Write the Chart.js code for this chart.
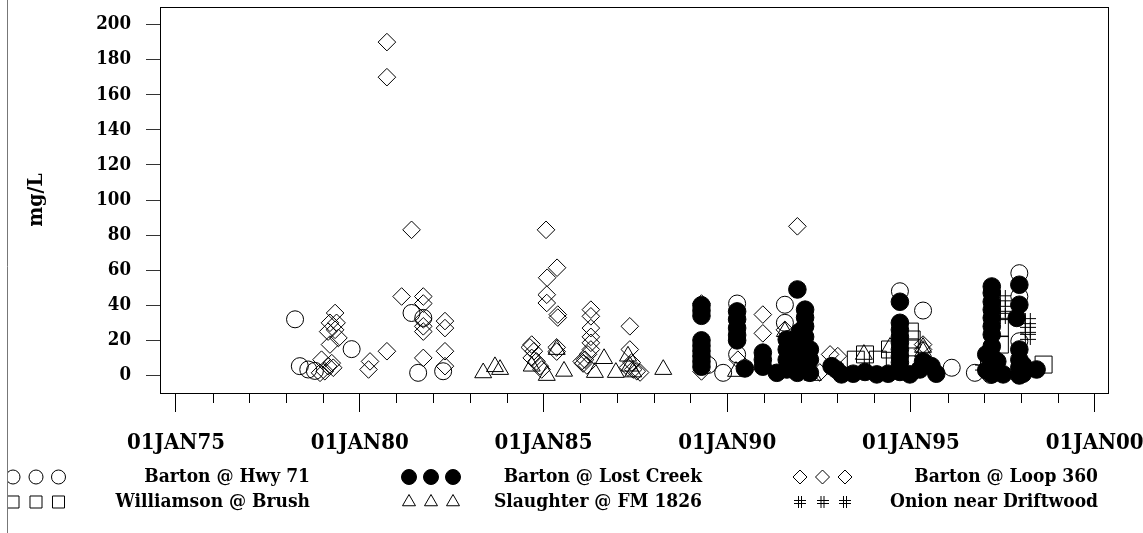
<!DOCTYPE html>
<html>
<head>
<meta charset="utf-8">
<script src="https://cdn.jsdelivr.net/npm/chart.js@4/dist/chart.umd.min.js"></script>
<style>
  html, body { margin: 0; padding: 0; background: #fff; overflow: hidden; }
  #wrap { width: 1143px; height: 533px; position: relative; }
</style>
</head>
<body>
<div id="wrap"><canvas id="c" width="1143" height="533"></canvas></div>
<script>
// Sample dates are decimal years; concentrations are mg/L.

const hwy71Dates  = [1978.24, 1978.37, 1978.60, 1978.78, 1979.78, 1981.41, 1981.73, 1981.59, 1982.27,
                     1989.48, 1989.89, 1990.27, 1990.27, 1991.57, 1991.57, 1994.70, 1995.33, 1996.11,
                     1996.74, 1997.17, 1997.95, 1997.95, 1997.95];
const hwy71Values = [32, 5.3, 3.4, 2.6, 15, 35.6, 32.8, 1.5, 2.4,
                     6, 1.5, 41, 12, 40.3, 30, 48, 37, 4.4,
                     1.5, 0.3, 58.3, 45, 19.5];

const lostCreekDates  = [1989.30, 1989.30, 1989.30, 1989.30, 1989.30, 1989.30, 1989.30, 1989.30, 1989.30,
                         1990.27, 1990.27, 1990.27, 1990.27, 1990.27, 1990.48,
                         1990.97, 1990.97, 1990.97, 1991.35, 1991.91,
                         1991.62, 1991.62, 1991.62, 1991.62, 1991.91, 1991.91, 1991.91,
                         1992.12, 1992.12, 1992.12, 1992.12, 1992.12, 1992.12,
                         1992.25, 1992.25, 1992.25, 1991.98, 1991.98,
                         1992.84, 1992.97, 1993.11, 1993.43, 1993.75, 1994.07, 1994.38,
                         1994.70, 1994.70, 1994.70, 1994.70, 1994.70, 1994.70, 1994.70, 1994.70, 1994.70, 1994.70,
                         1994.97, 1995.24, 1995.33, 1995.56, 1995.69,
                         1997.20, 1997.20, 1997.20, 1997.20, 1997.20, 1997.20, 1997.20, 1997.20, 1997.20, 1997.20, 1997.20,
                         1997.05, 1997.05, 1997.35, 1997.35, 1997.51,
                         1997.95, 1997.95, 1997.95, 1997.95, 1997.95, 1997.95, 1997.88, 1998.05, 1998.05, 1998.42];
const lostCreekValues = [40, 37, 34, 20, 17, 14, 11, 8, 5,
                         36.5, 32, 27, 23, 20, 4,
                         13, 9, 5, 1.5, 49,
                         20.5, 14.8, 9, 3.4, 11, 5.3, 1.5,
                         37.5, 33, 28, 22, 16.6, 9,
                         14.8, 9, 1.5, 25, 18,
                         5.3, 3.4, 0.6, 1, 2, 0.6, 1,
                         2, 42, 30, 26, 22, 18.6, 14.8, 11, 7.4, 3.4,
                         0.6, 3.4, 8, 5.3, 1,
                         50.7, 47, 42, 37.5, 32.8, 28, 23.3, 16.6, 11, 5.3, 0.6,
                         12, 3, 8, 2, 0.6,
                         51.7, 40.3, 14.8, 9, 4.5, 0, 32.8, 6, 1, 3.4];

const loop360Dates  = [1978.96, 1979.33, 1979.19, 1979.37, 1979.33, 1979.14, 1979.42, 1979.19,
                       1979.14, 1979.05, 1979.24, 1978.92, 1979.28,
                       1980.28, 1980.24, 1980.74, 1980.74, 1980.74, 1981.41, 1981.14,
                       1981.73, 1981.73, 1981.73, 1981.73, 1981.73, 1981.73,
                       1982.32, 1982.32, 1982.32, 1982.32,
                       1984.68, 1984.68, 1984.74, 1984.81, 1984.90, 1984.95, 1984.63,
                       1985.07, 1985.10, 1985.37, 1985.09, 1985.09, 1985.39, 1985.39, 1985.36, 1985.36,
                       1986.29, 1986.29, 1986.29, 1986.29, 1986.29, 1986.29,
                       1986.21, 1986.13, 1986.04, 1986.08, 1986.18,
                       1987.35, 1987.35, 1987.40, 1987.44, 1987.54, 1987.30, 1987.63,
                       1989.30, 1989.30, 1990.29, 1990.97, 1990.97, 1991.57, 1991.91,
                       1992.52, 1992.80, 1993.01, 1995.33, 1995.33];
const loop360Values = [9, 35.6, 30, 30, 26, 25, 21.4, 17.6,
                       5.3, 2.4, 7, 1.5, 4.4,
                       8, 3.4, 190, 170, 13.8, 83, 45,
                       45, 41, 32, 28, 25, 10,
                       31, 27, 13.8, 5.3,
                       17.6, 10, 13.8, 8, 5.3, 3.4, 16,
                       83, 55.7, 61.4, 46, 41.3, 34.7, 33, 16, 13.6,
                       37.5, 33.7, 27, 22, 18.6, 14.8,
                       12, 9, 8, 6.8, 5.7,
                       28, 14.8, 7.4, 3.4, 2.4, 4.5, 1.7,
                       41, 2.3, 9, 34.7, 24, 26, 85,
                       1.7, 12, 11, 17.6, 14.8];

const brushDates  = [1993.50, 1993.75, 1994.10, 1994.43, 1994.97, 1994.97, 1995.02, 1997.42, 1997.42, 1998.61];
const brushValues = [9, 12, 9, 14.8, 25, 16, 20.5, 27, 17.6, 6.2];

const fm1826Dates  = [1983.36, 1983.68, 1983.82, 1984.68, 1985.09, 1985.36, 1985.56, 1986.40, 1986.65,
                      1986.97, 1987.30, 1987.35, 1987.44, 1988.26, 1990.24, 1991.57, 1992.33,
                      1993.72, 1994.43, 1995.33, 1995.33];
const fm1826Values = [1.5, 5, 3.4, 5.3, 0, 14.8, 2.4, 1.7, 9.6,
                      1.7, 11, 5.3, 2, 3.4, 2.3, 25, 0,
                      12, 16, 16, 13.6];

const onionDates  = [1996.96, 1997.50, 1997.50, 1997.50, 1998.18, 1998.18, 1998.18];
const onionValues = [4.5, 44, 38, 34, 31, 26, 22];

const yTickValues  = [0, 20, 40, 60, 80, 100, 120, 140, 160, 180, 200];
const xMajorYears  = [1975, 1980, 1985, 1990, 1995, 2000];
const xMinorYears  = [1976, 1977, 1978, 1979, 1981, 1982, 1983, 1984, 1986, 1987, 1988, 1989,
                      1991, 1992, 1993, 1994, 1996, 1997, 1998, 1999];
const seriesNames  = ['Barton @ Hwy 71', 'Barton @ Lost Creek', 'Barton @ Loop 360',
                      'Williamson @ Brush', 'Slaughter @ FM 1826', 'Onion near Driftwood'];

const FONT = '"DejaVu Serif Condensed", "DejaVu Serif", serif';
Chart.defaults.font.family = FONT;
Chart.defaults.color = '#000';

function makeHash(size) {
  const c = document.createElement('canvas');
  c.width = c.height = size;
  const g = c.getContext('2d');
  g.strokeStyle = '#000';
  g.lineWidth = 1;
  const a = Math.round(size / 3) + 0.5, b = Math.round(2 * size / 3) - 0.5;
  g.beginPath();
  g.moveTo(a, 0); g.lineTo(a, size);
  g.moveTo(b, 0); g.lineTo(b, size);
  g.moveTo(0, a); g.lineTo(size, a);
  g.moveTo(0, b); g.lineTo(size, b);
  g.stroke();
  return c;
}
const hashMark = makeHash(16);
const hashLegend = makeHash(12);

const pts = (xs, ys) => xs.map((x, i) => ({ x: x, y: ys[i] }));

const styles = [
  { style: 'circle',   radius: 8.5, fill: 'rgba(0,0,0,0)', lr: 7 },
  { style: 'circle',   radius: 8.8, fill: '#000',          lr: 7.5 },
  { style: 'rectRot',  radius: 8.8, fill: 'rgba(0,0,0,0)', lr: 7 },
  { style: 'rect',     radius: 12,  fill: 'rgba(0,0,0,0)', lr: 8.5 },
  { style: 'triangle', radius: 9.8, fill: 'rgba(0,0,0,0)', lr: 7.5 },
  { style: hashMark,   radius: 8,   fill: 'rgba(0,0,0,0)', lr: 6, legendStyle: hashLegend }
];
const series = [
  pts(hwy71Dates, hwy71Values),
  pts(lostCreekDates, lostCreekValues),
  pts(loop360Dates, loop360Values),
  pts(brushDates, brushValues),
  pts(fm1826Dates, fm1826Values),
  pts(onionDates, onionValues)
];

const datasets = series.map((data, i) => ({
  label: seriesNames[i],
  data: data,
  order: 6 - i,
  pointStyle: styles[i].style,
  pointRadius: styles[i].radius,
  pointHoverRadius: styles[i].radius,
  pointBorderWidth: 1,
  pointBorderColor: '#000',
  pointBackgroundColor: styles[i].fill,
  showLine: false
}));

// Frame, minor year ticks, left rule and the symbol key under the axis.
const decorations = {
  id: 'decorations',
  afterDraw(chart) {
    const ctx = chart.ctx;
    const a = chart.chartArea;
    const xs = chart.scales.x;
    ctx.save();
    ctx.strokeStyle = '#000';
    ctx.lineWidth = 1;
    ctx.strokeRect(Math.round(a.left) + 0.5, Math.round(a.top) + 0.5,
                   Math.round(a.right - a.left) - 1, Math.round(a.bottom - a.top));
    ctx.beginPath();
    xMinorYears.forEach(yr => {
      const px = Math.round(xs.getPixelForValue(yr)) + 0.5;
      ctx.moveTo(px, a.bottom);
      ctx.lineTo(px, a.bottom + 10);
    });
    ctx.stroke();

    ctx.strokeStyle = '#777';
    ctx.beginPath();
    ctx.moveTo(7.5, 0);
    ctx.lineTo(7.5, chart.height);
    ctx.stroke();

    const rowY = [477, 502];
    const colSym = [[13, 36, 58.5], [409, 431, 453], [800, 822.5, 845]];
    const colText = [310, 702, 1098];
    const order = [[0, 3], [1, 4], [2, 5]];
    ctx.font = 'bold 19px ' + FONT;
    ctx.textAlign = 'right';
    ctx.textBaseline = 'middle';
    ctx.fillStyle = '#000';
    order.forEach((pair, c) => {
      pair.forEach((si, r) => {
        const st = styles[si];
        ctx.save();
        ctx.beginPath();
        ctx.rect(8, 0, chart.width, chart.height);
        ctx.clip();
        ctx.strokeStyle = '#000';
        ctx.fillStyle = st.fill;
        ctx.lineWidth = 1;
        colSym[c].forEach(x => {
          Chart.helpers.drawPoint(ctx, {
            pointStyle: st.legendStyle || st.style,
            radius: st.lr,
            rotation: 0,
            borderWidth: 1
          }, x, rowY[r]);
        });
        ctx.restore();
        ctx.fillStyle = '#000';
        ctx.fillText(seriesNames[si], colText[c], rowY[r]);
      });
    });
    ctx.restore();
  }
};

new Chart(document.getElementById('c'), {
  type: 'scatter',
  data: { datasets: datasets },
  options: {
    responsive: false,
    animation: false,
    events: [],
    layout: { autoPadding: false, padding: { left: 0, top: 7, right: 34, bottom: 70 } },
    plugins: { legend: { display: false }, tooltip: { enabled: false } },
    scales: {
      x: {
        type: 'linear',
        min: 1974.565,
        max: 2000.39,
        afterBuildTicks: s => { s.ticks = xMajorYears.map(v => ({ value: v })); },
        afterFit: s => { s.height = 70; s.paddingLeft = 0; s.paddingRight = 0; },
        border: { display: false },
        grid: { drawOnChartArea: false, drawTicks: true, tickLength: 19, tickColor: '#000', lineWidth: 1 },
        ticks: {
          autoSkip: false, maxRotation: 0, minRotation: 0, padding: 18,
          font: { size: 22, weight: 'bold' }, color: '#000',
          callback: v => '01JAN' + String(Math.round(v) % 100).padStart(2, '0')
        }
      },
      y: {
        type: 'linear',
        min: -10,
        max: 210,
        afterBuildTicks: s => { s.ticks = yTickValues.map(v => ({ value: v })); },
        afterFit: s => { s.width = 160; s.paddingTop = 0; s.paddingBottom = 0; },
        border: { display: false },
        grid: { drawOnChartArea: false, drawTicks: true, tickLength: 14, tickColor: '#333', lineWidth: 1 },
        ticks: { padding: 15, font: { size: 18.5, weight: 'bold' }, color: '#000' },
        title: {
          display: true, text: 'mg/L', color: '#000',
          font: { size: 21, weight: 'bold' },
          padding: { top: 24, bottom: 0 }
        }
      }
    }
  },
  plugins: [decorations]
});
</script>
</body>
</html>
